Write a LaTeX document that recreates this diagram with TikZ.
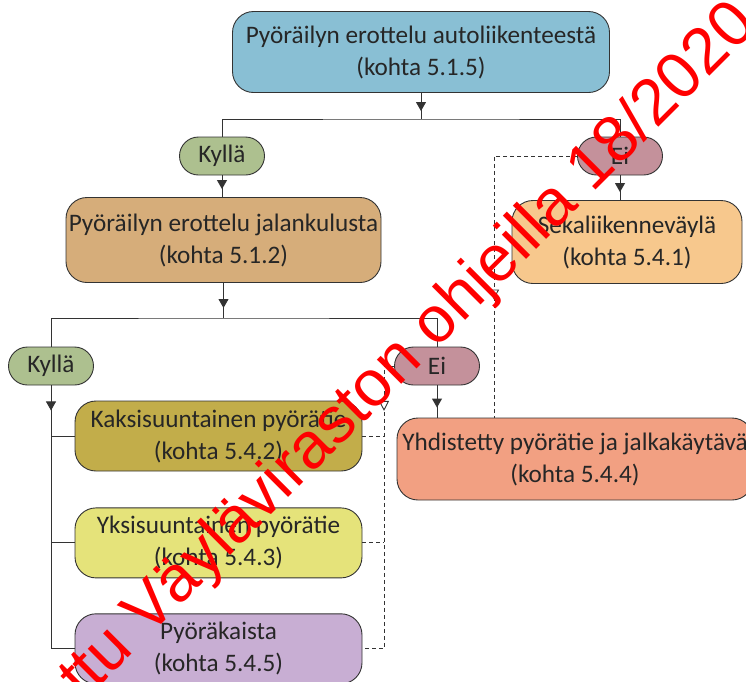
\documentclass[tikz,border=0pt]{standalone}
\usepackage{fontspec}
\setmainfont{Carlito}
\newfontfamily\stampfont{Liberation Sans}
\usepackage{tikz}
\usetikzlibrary{arrows.meta,positioning,decorations.markings}

\definecolor{linegray}{HTML}{333333}
\definecolor{textgray}{HTML}{262626}
\definecolor{autoblue}{HTML}{89BFD4}
\definecolor{jalkatan}{HTML}{D6AD7A}
\definecolor{sekaorange}{HTML}{F7C88D}
\definecolor{kyllagreen}{HTML}{ADC08F}
\definecolor{eimauve}{HTML}{C4919B}
\definecolor{kaksiolive}{HTML}{C2AD4A}
\definecolor{yksiyellow}{HTML}{E5E37A}
\definecolor{kaistalilac}{HTML}{C8AED3}
\definecolor{yhdsalmon}{HTML}{F2A082}

\begin{document}
\begin{tikzpicture}[x=1pt,y=-1pt,node distance=35pt,
  box/.style={draw=linegray,line width=0.9pt,rounded corners=21pt,align=center,
    text=textgray,inner sep=0pt,font=\fontsize{25.2}{32}\selectfont},
  pill/.style={draw=linegray,line width=0.9pt,rounded corners=19pt,minimum width=85pt,
    minimum height=38pt,inner sep=0pt,text=textgray,font=\fontsize{25.2}{30}\selectfont},
  link/.style={draw=linegray,line width=0.9pt},
  flow/.style={link,postaction={decorate},decoration={markings,
    mark=at position #1 with {\arrow{Triangle[length=9pt,width=10pt]}}}},
  dlink/.style={link,dash pattern=on 4pt off 3pt},
  dflow/.style={dlink,postaction={decorate},decoration={markings,
    mark=at position #1 with {\arrow{Triangle[length=10pt,width=10pt,fill=white]}}}}]
\path[use as bounding box] (0,0) rectangle (746,681);
\clip (0,0) rectangle (746,681);

\node (auto) [box,fill=autoblue,minimum width=377pt,minimum height=81pt] at (421,52) {Pyöräilyn erottelu autoliikenteestä\\(kohta 5.1.5)};
\node (kylla1) [pill,fill=kyllagreen] at (222,156) {Kyllä};
\node (ei1) [pill,fill=eimauve] at (620,156) {Ei};
\node (jalka) [box,fill=jalkatan,minimum width=315pt,minimum height=85pt] at (223.5,240) {Pyöräilyn erottelu jalankulusta\\(kohta 5.1.2)};
\node (seka) [box,fill=sekaorange,minimum width=230pt,minimum height=83pt] at (627,242) {Sekaliikenneväylä\\(kohta 5.4.1)};
\node (kylla2) [pill,fill=kyllagreen] at (51,366) {Kyllä};
\node (ei2) [pill,fill=eimauve] at (437,366) {Ei};
\node (kaksi) [box,fill=kaksiolive,minimum width=287pt,minimum height=70pt] at (218.5,436) {Kaksisuuntainen pyörätie\\(kohta 5.4.2)};
\node (yksi) [box,fill=yksiyellow,minimum width=287pt,minimum height=70pt,below=36pt of kaksi] {Yksisuuntainen pyörätie\\(kohta 5.4.3)};
\node (kaista) [box,fill=kaistalilac,minimum width=287pt,minimum height=70pt,below=35pt of yksi] {Pyöräkaista\\(kohta 5.4.5)};
\node (yhd) [box,fill=yhdsalmon,minimum width=356pt,minimum height=82pt] at (575,459) {Yhdistetty pyörätie ja jalkakäytävä\\(kohta 5.4.4)};

\coordinate (j1) at (421,119);
\coordinate (j2) at (223.5,318);
\coordinate (d1) at (494,156);
\coordinate (d2) at (384,366);

\draw[flow=-8pt] (auto) -- (j1);
\draw[link] (kylla1) |- (j1) -| (ei1);
\draw[flow=-8pt] (kylla1) -- (kylla1 |- jalka.north);
\draw[flow=-8pt] (ei1) -- (ei1 |- seka.north);
\draw[flow=-10pt] (jalka) -- (j2);
\draw[link] (kylla2) |- (j2) -| (ei2);
\draw[flow=-10pt] (ei2) -- (ei2 |- yhd.north);
\draw[flow=25pt] (kylla2) |- (kaista.west);
\draw[link] (kylla2) |- (kaksi.west);
\draw[link] (kylla2) |- (yksi.west);

\draw[dflow=-118pt] (ei1) -- (d1) -- (d1 |- yhd.north);
\draw[dflow=55pt] (ei2) -- (d2) |- (kaista.east);
\draw[dlink] (kaksi.east) -- (kaksi.east -| d2);
\draw[dlink] (yksi.east) -- (yksi.east -| d2);

\node (stamp) [rotate=45,anchor=base west,text=red,inner sep=0pt,
  font=\stampfont\fontsize{65}{65}\selectfont] at (-36,822) {Korvattu Väyläviraston ohjeilla 18/2020};
\end{tikzpicture}
\end{document}
